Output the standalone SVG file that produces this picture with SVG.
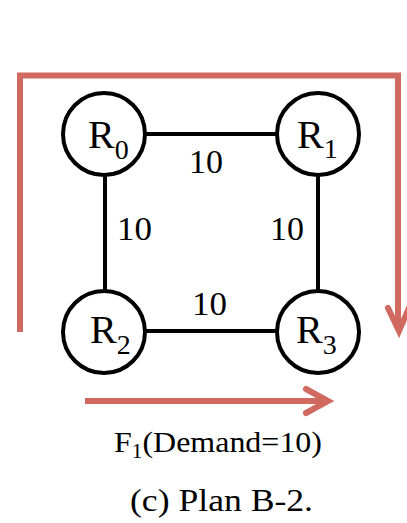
<svg xmlns="http://www.w3.org/2000/svg" width="407" height="523" viewBox="0 0 407 523">
<style>
.node{fill:#fff;stroke:#000;stroke-width:4}
.edge{stroke:#000;stroke-width:4;fill:none}
.flow{stroke:#d06a60;stroke-width:6;fill:none;stroke-linecap:butt}
.head{stroke:#d06a60;stroke-width:6;fill:none;stroke-linecap:round;stroke-linejoin:miter}
text{font-family:"Liberation Serif","Times New Roman",serif;fill:#000}
.lbl{font-size:40px}
.sub{font-size:28px}
.w{font-size:34px}
</style>
<g id="connectors">
<line class="edge" x1="146" y1="134" x2="277" y2="134"/>
<line class="edge" x1="146" y1="331" x2="277" y2="331"/>
<line class="edge" x1="105" y1="175" x2="105" y2="291"/>
<line class="edge" x1="318" y1="175" x2="318" y2="291"/>
<text class="w" x="189" y="173" textLength="34" lengthAdjust="spacingAndGlyphs">10</text>
<text class="w" x="117" y="240" textLength="35" lengthAdjust="spacingAndGlyphs">10</text>
<text class="w" x="270" y="240" textLength="34" lengthAdjust="spacingAndGlyphs">10</text>
<text class="w" x="192" y="315" textLength="35" lengthAdjust="spacingAndGlyphs">10</text>
</g>
<g id="flow-path">
<polyline class="flow" points="20,332 20,75.5 398,75.5 398,330"/>
<polyline class="head" points="388,308 399,331 409,308"/>
</g>
<g id="flow-arrow">
<line class="flow" x1="85" y1="401" x2="326" y2="401"/>
<polyline class="head" points="306,389 328,401 306,413"/>
</g>
<g id="R0">
<circle class="node" cx="104" cy="134" r="41"/>
<text x="88" y="148"><tspan class="lbl">R</tspan><tspan class="sub" dy="11">0</tspan></text>
</g>
<g id="R1">
<circle class="node" cx="318" cy="134" r="41"/>
<text x="297" y="148"><tspan class="lbl">R</tspan><tspan class="sub" dy="10">1</tspan></text>
</g>
<g id="R2">
<circle class="node" cx="104" cy="332" r="41"/>
<text x="90" y="343"><tspan class="lbl">R</tspan><tspan class="sub" dy="11">2</tspan></text>
</g>
<g id="R3">
<circle class="node" cx="318" cy="332" r="41"/>
<text x="296" y="343"><tspan class="lbl">R</tspan><tspan class="sub" dy="11">3</tspan></text>
</g>
<g id="caption">
<text x="114" y="452" style="font-size:30px" textLength="208" lengthAdjust="spacingAndGlyphs">F<tspan style="font-size:20px" dy="6">1</tspan><tspan dy="-6">(Demand=10)</tspan></text>
<text x="130" y="511" style="font-size:32px" textLength="183" lengthAdjust="spacingAndGlyphs">(c) Plan B-2.</text>
</g>
</svg>
